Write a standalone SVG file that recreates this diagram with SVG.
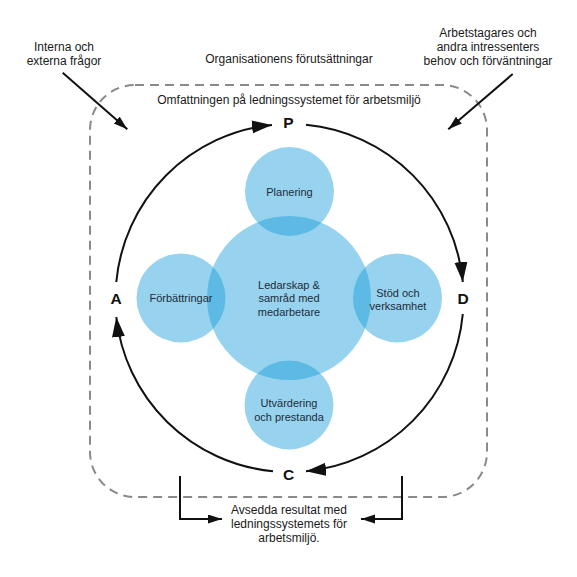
<svg xmlns="http://www.w3.org/2000/svg" width="577" height="577" viewBox="0 0 577 577">
<style>
.lbl{font-family:"Liberation Sans","Noto Sans",sans-serif;font-size:12px;fill:#1a1a1a;text-anchor:middle}
.ntxt{font-family:"Liberation Sans","Noto Sans",sans-serif;font-size:11px;fill:#1d2b3a;text-anchor:middle}
.ph{font-family:"Liberation Sans","Noto Sans",sans-serif;font-size:15.5px;font-weight:bold;fill:#111;text-anchor:middle}
.blob{fill:#0f99d8;fill-opacity:0.43}
.arc{fill:none;stroke:#111;stroke-width:2}
.ln{fill:none;stroke:#111;stroke-width:2}
</style>
<defs>
<marker id="big" markerUnits="userSpaceOnUse" markerWidth="22" markerHeight="14" refX="20" refY="6.5" orient="auto">
<path d="M0,0 L20,6.5 L0,13 z" fill="#111"/>
</marker>
<marker id="sm" markerUnits="userSpaceOnUse" markerWidth="16" markerHeight="10" refX="14" refY="4.5" orient="auto">
<path d="M0,0 L14,4.5 L0,9 z" fill="#111"/>
</marker>
</defs>
<rect x="90" y="85" width="397" height="412" rx="45" ry="45" fill="none" stroke="#8a8a8a" stroke-width="2" stroke-dasharray="9 6"/>
<text class="lbl" x="289" y="63">Organisationens förutsättningar</text>
<text class="lbl" x="289" y="104">Omfattningen på ledningssystemet för arbetsmiljö</text>
<g id="in-left"><text class="lbl" x="64" y="51">Interna och</text><text class="lbl" x="64" y="65">externa frågor</text></g>
<g id="in-right"><text class="lbl" x="488" y="37">Arbetstagares och</text><text class="lbl" x="488" y="51">andra intressenters</text><text class="lbl" x="488" y="65">behov och förväntningar</text></g>
<g id="out"><text class="lbl" x="289" y="514">Avsedda resultat med</text><text class="lbl" x="289" y="528">ledningssystemets för</text><text class="lbl" x="289" y="542">arbetsmiljö.</text></g>
<g id="center"><circle class="blob" cx="289" cy="298" r="82"/><text class="ntxt" x="289" y="289">Ledarskap &amp;</text><text class="ntxt" x="289" y="302">samråd med</text><text class="ntxt" x="289" y="316">medarbetare</text></g>
<g id="planering"><circle class="blob" cx="289.5" cy="191.5" r="44.5"/><text class="ntxt" x="289.5" y="196">Planering</text></g>
<g id="stod"><circle class="blob" cx="397.5" cy="298" r="44.5"/><text class="ntxt" x="398" y="297">Stöd och</text><text class="ntxt" x="398" y="310">verksamhet</text></g>
<g id="utv"><circle class="blob" cx="289" cy="405" r="44.5"/><text class="ntxt" x="289" y="407">Utvärdering</text><text class="ntxt" x="289" y="421">och prestanda</text></g>
<g id="forb"><circle class="blob" cx="181" cy="298" r="44.5"/><text class="ntxt" x="181" y="302">Förbättringar</text></g>
<g id="P"><text class="ph" x="288.5" y="128">P</text></g>
<g id="D"><text class="ph" x="463" y="304">D</text></g>
<g id="C"><text class="ph" x="288.5" y="480">C</text></g>
<g id="A"><text class="ph" x="116" y="304">A</text></g>
<g id="connectors">
<path class="arc" d="M116.3,282 A174,174 0 0 1 272,124.9" marker-end="url(#big)"/>
<path class="arc" d="M306,124.8 A174,174 0 0 1 462.8,282" marker-end="url(#big)"/>
<path class="arc" d="M462.8,314 A174,174 0 0 1 306,471.2" marker-end="url(#big)"/>
<path class="arc" d="M273,471.2 A174,174 0 0 1 116.3,317" marker-end="url(#big)"/>
<path class="ln" d="M62.7,72.7 L127.3,129.3" marker-end="url(#sm)"/>
<path class="ln" d="M512.7,74 L448.3,129.3" marker-end="url(#sm)"/>
<path class="ln" d="M180,476 L180,519 L222,519" marker-end="url(#sm)"/>
<path class="ln" d="M402,476 L402,519 L361,519" marker-end="url(#sm)"/>
</g>
</svg>
